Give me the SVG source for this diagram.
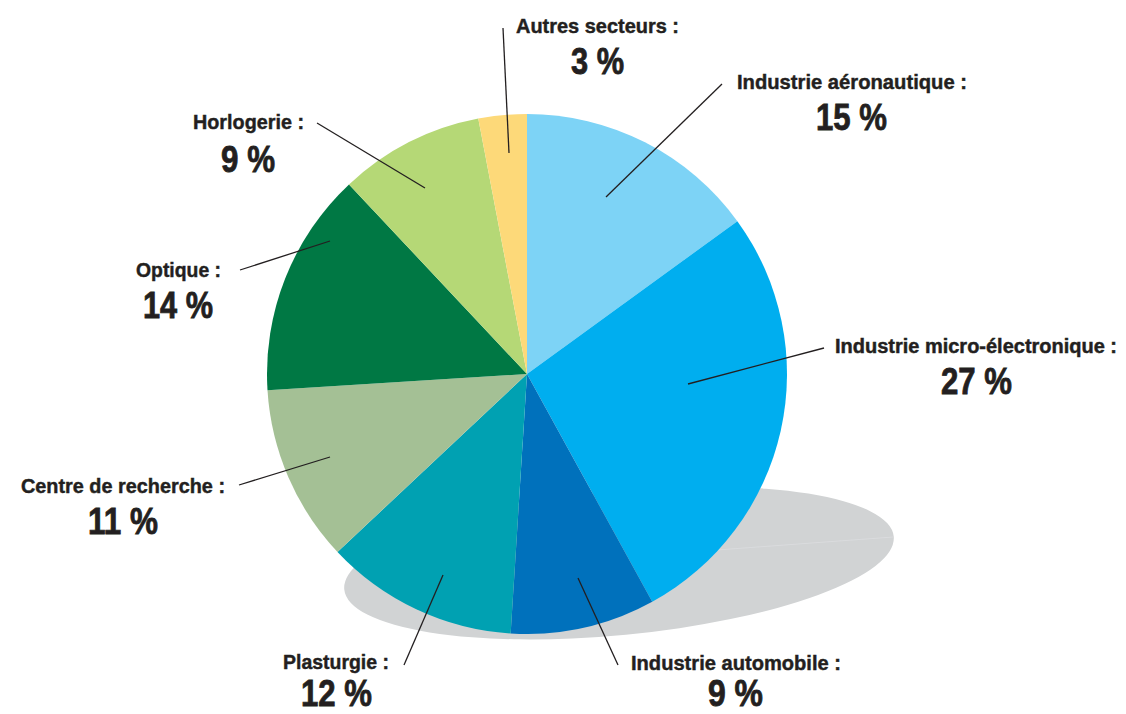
<svg xmlns="http://www.w3.org/2000/svg" width="1126" height="714" viewBox="0 0 1126 714">
<style>
.lbl{font-family:"Liberation Sans",Arial,sans-serif;font-weight:bold;font-size:21px;fill:#231f20;stroke:#231f20;stroke-width:0.45}
.pct{font-family:"Liberation Sans",Arial,sans-serif;font-weight:bold;font-size:36px;fill:#231f20;stroke:#231f20;stroke-width:0.8}
.lead{stroke:#231f20;stroke-width:1.3;fill:none}
</style>
<rect width="1126" height="714" fill="#ffffff"/>
<g id="shadow">
<ellipse cx="619" cy="563" rx="276" ry="72" transform="rotate(-5.5 619 563)" fill="#d1d3d4"/>
<line x1="717" y1="550" x2="893" y2="537" stroke="#dcdddf" stroke-width="0.8"/>
</g>
<g id="aero">
<path d="M527,374 L527,114 A260,260 0 0 1 737.34,221.18 Z" fill="#7dd3f6"/>
<text class="lbl" x="737" y="89" textLength="230" lengthAdjust="spacingAndGlyphs">Industrie aéronautique :</text>
<text class="pct" x="816" y="130" textLength="71" lengthAdjust="spacingAndGlyphs">15 %</text>
</g>
<g id="micro">
<path d="M527,374 L737.34,221.18 A260,260 0 0 1 652.25,601.84 Z" fill="#00aeef"/>
<text class="lbl" x="835" y="353" font-size="20" textLength="282" lengthAdjust="spacingAndGlyphs" style="font-size:20px">Industrie micro-électronique :</text>
<text class="pct" x="941" y="394" textLength="71" lengthAdjust="spacingAndGlyphs">27 %</text>
</g>
<g id="auto">
<path d="M527,374 L652.25,601.84 A260,260 0 0 1 510.67,633.49 Z" fill="#0071bc"/>
<text class="lbl" x="631" y="670" textLength="210" lengthAdjust="spacingAndGlyphs">Industrie automobile :</text>
<text class="pct" x="708" y="706" textLength="55" lengthAdjust="spacingAndGlyphs">9 %</text>
</g>
<g id="plasturgie">
<path d="M527,374 L510.67,633.49 A260,260 0 0 1 337.47,551.98 Z" fill="#00a1b2"/>
<text class="lbl" x="283" y="669" textLength="106" lengthAdjust="spacingAndGlyphs">Plasturgie :</text>
<text class="pct" x="301" y="706" textLength="71" lengthAdjust="spacingAndGlyphs">12 %</text>
</g>
<g id="centre">
<path d="M527,374 L337.47,551.98 A260,260 0 0 1 267.51,390.33 Z" fill="#a4c095"/>
<text class="lbl" x="21" y="493" textLength="204" lengthAdjust="spacingAndGlyphs">Centre de recherche :</text>
<text class="pct" x="88" y="534" textLength="70" lengthAdjust="spacingAndGlyphs">11 %</text>
</g>
<g id="optique">
<path d="M527,374 L267.51,390.33 A260,260 0 0 1 349.02,184.47 Z" fill="#007844"/>
<text class="lbl" x="136" y="277" textLength="85" lengthAdjust="spacingAndGlyphs">Optique :</text>
<text class="pct" x="143" y="318" textLength="70" lengthAdjust="spacingAndGlyphs">14 %</text>
</g>
<g id="horlogerie">
<path d="M527,374 L349.02,184.47 A260,260 0 0 1 478.28,118.60 Z" fill="#b5d876"/>
<text class="lbl" x="193" y="129" textLength="111" lengthAdjust="spacingAndGlyphs">Horlogerie :</text>
<text class="pct" x="221" y="172" textLength="54" lengthAdjust="spacingAndGlyphs">9 %</text>
</g>
<g id="autres">
<path d="M527,374 L478.28,118.60 A260,260 0 0 1 527,114 Z" fill="#fdd979"/>
<text class="lbl" x="516" y="33" textLength="163" lengthAdjust="spacingAndGlyphs">Autres secteurs :</text>
<text class="pct" x="571" y="74" textLength="53" lengthAdjust="spacingAndGlyphs">3 %</text>
</g>
<g id="connectors">
<line class="lead" x1="503" y1="28" x2="509" y2="153"/>
<line class="lead" x1="722" y1="84" x2="606" y2="197"/>
<line class="lead" x1="824" y1="348" x2="688" y2="384"/>
<line class="lead" x1="578" y1="578" x2="618" y2="665"/>
<line class="lead" x1="443" y1="575" x2="404" y2="665"/>
<line class="lead" x1="239" y1="485" x2="330" y2="457"/>
<line class="lead" x1="240" y1="270" x2="330" y2="241"/>
<line class="lead" x1="317" y1="123" x2="425" y2="188"/>
</g>
</svg>
